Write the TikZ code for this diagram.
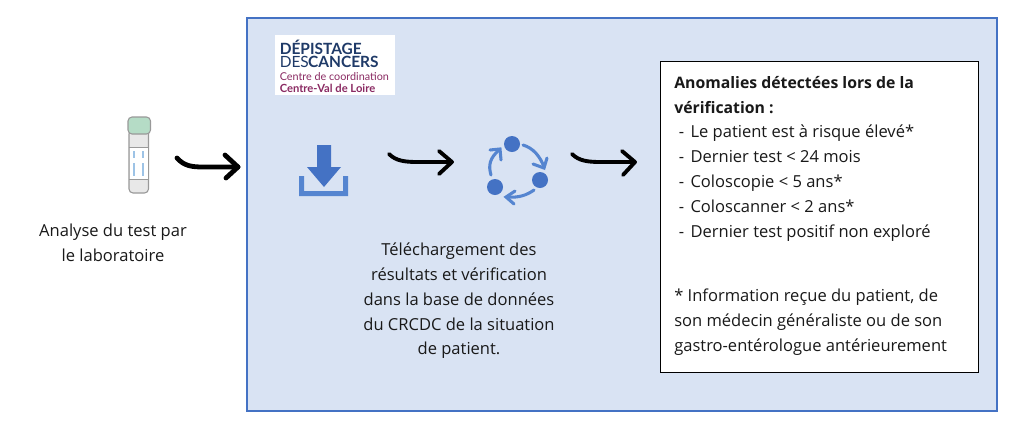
\documentclass[tikz,border=0pt]{standalone}
\usepackage{fontspec}
\setmainfont{Open Sans}
\newfontfamily\logofont{Lato}
\usetikzlibrary{arrows.meta}
\definecolor{panelblue}{HTML}{D9E3F3}
\definecolor{edgeblue}{HTML}{4472C4}
\definecolor{trayblue}{HTML}{5585D0}
\definecolor{navy}{HTML}{1F3A68}
\definecolor{plum}{HTML}{8A2A62}
\definecolor{capgreen}{HTML}{B5DCC6}
\definecolor{tubegrey}{HTML}{E8E8E8}
\definecolor{labelblue}{HTML}{9DC3E6}
\newcommand{\boldline}[1]{{\fontsize{11.85}{18.6}\selectfont\bfseries #1}}
\tikzset{
  x=0.75pt,y=-0.75pt,
  bodytext/.style={font=\fontsize{12.4}{18.6}\selectfont,align=center,inner sep=0pt,text=black!90},
  handarrow/.style={line width=#1,line cap=round,line join=round,black},
  cycleline/.style={line width=2.3pt,trayblue,line cap=round,line join=miter},
  cycledot/.style={circle,fill=edgeblue,inner sep=0pt,minimum size=12pt},
  logoline/.style={anchor=base west,inner sep=0pt},
}
\begin{document}
\begin{tikzpicture}
\useasboundingbox (0,0) rectangle (1024,426);
\fill[white] (0,0) rectangle (1024,426);
% panel
\node[draw=edgeblue,fill=panelblue,line width=1.2pt,minimum width=562.5pt,minimum height=294.75pt,inner sep=0pt] (panel) at (622,214.5) {};
% tube
\draw[gray!80,line width=0.8pt,fill=tubegrey,rounded corners=3pt] (129,130) rectangle (148.5,193);
\fill[white] (129.5,147) rectangle (148,179);
\draw[gray!80,line width=0.6pt] (129,147) -- (148.5,147) (129,179) -- (148.5,179);
\draw[labelblue,line width=1pt] (134,151) -- (134,158) (143,151) -- (143,158) (134,163) -- (134,176) (143,163) -- (143,176);
\draw[gray!80,line width=0.8pt,fill=capgreen,rounded corners=3pt] (128,117) rectangle (150.5,134);
\node[bodytext] (labtext) at (113,243) {Analyse du test par\\le laboratoire};
% arrow 1
\coordinate (a1s) at (177,158);\coordinate (a1e) at (238,167);
\draw[handarrow=3.6pt] (a1s) .. controls (184,166) and (192,167) .. (203,167) -- (a1e);
\draw[handarrow=3.6pt] (225,155) -- (a1e) -- (226,178);
% logo
\fill[white] (275,35) rectangle (395,95);
\node[logoline,font=\logofont\fontsize{11.6}{13}\selectfont\bfseries,text=navy] (logoa) at (279.5,54) {DÉPISTAGE};
\node[logoline,font=\logofont\fontsize{11.6}{13}\selectfont,text=navy] (logob) at (279.5,67.5) {DES\hspace{-0.5pt}\textbf{CANCERS}};
\node[logoline,font=\logofont\fontsize{8.1}{9}\selectfont,text=plum] (logoc) at (279.5,80) {Centre de coordination};
\node[logoline,font=\logofont\fontsize{8.4}{9}\selectfont\bfseries,text=plum] (logod) at (279.5,92) {Centre-Val de Loire};
% download icon
\fill[edgeblue] (317,145) -- (331,145) -- (331,167) -- (341,167) -- (324,187) -- (307,167) -- (317,167) -- cycle;
\fill[trayblue,even odd rule] (299,176) -- (304,176) -- (304,191) -- (343,191) -- (343,176) -- (348,176) -- (348,196) -- (299,196) -- cycle;
% arrow 2
\coordinate (a2s) at (389,154);\coordinate (a2e) at (452,162);
\draw[handarrow=2.9pt] (a2s) .. controls (396,161) and (405,162) .. (418,162) -- (a2e);
\draw[handarrow=2.9pt] (439,151) -- (a2e) -- (439,174);
% cycle icon
\node[cycledot] (dota) at (512,144) {};
\node[cycledot] (dotb) at (540,180) {};
\node[cycledot] (dotc) at (495,187) {};
\draw[cycleline] (523,145) .. controls (533,148) and (540,156) .. (544,167);
\draw[cycleline] (533,164) -- (544,168) -- (547,158);
\draw[cycleline] (534,190) .. controls (527,195) and (519,198) .. (507,197);
\draw[cycleline] (515,191) -- (506,197) -- (514,204);
\draw[cycleline] (491,175) .. controls (488,165) and (490,158) .. (499,150);
\draw[cycleline] (490,150) -- (500,149) -- (501,160);
% arrow 3
\coordinate (a3s) at (572,154);\coordinate (a3e) at (635,162);
\draw[handarrow=2.9pt] (a3s) .. controls (579,161) and (588,162) .. (601,162) -- (a3e);
\draw[handarrow=2.9pt] (622,151) -- (a3e) -- (623,175);
% centre text
\node[bodytext] (dltext) at (459,301) {Téléchargement des\\résultats et vérification\\dans la base de données\\du CRCDC de la situation\\de patient.};
% white box
\node[draw=black,fill=white,line width=0.7pt,minimum width=238.5pt,minimum height=233.25pt,inner sep=0pt] (box) at (819,216.5) {};
\node[bodytext,align=left,anchor=north west] (boxtext) at (674,76) {\boldline{Anomalies détectées lors de la}\\
\boldline{vérification :}\\
\hspace*{3.5pt}- \hspace{1.5pt}Le patient est à risque élevé*\\
\hspace*{3.5pt}- \hspace{1.5pt}Dernier test < 24 mois\\
\hspace*{3.5pt}- \hspace{1.5pt}Coloscopie < 5 ans*\\
\hspace*{3.5pt}- \hspace{1.5pt}Coloscanner < 2 ans*\\
\hspace*{3.5pt}- \hspace{1.5pt}Dernier test positif non exploré\\[30pt]
* Information reçue du patient, de\\
son médecin généraliste ou de son\\
gastro-entérologue antérieurement};
\end{tikzpicture}
\end{document}
